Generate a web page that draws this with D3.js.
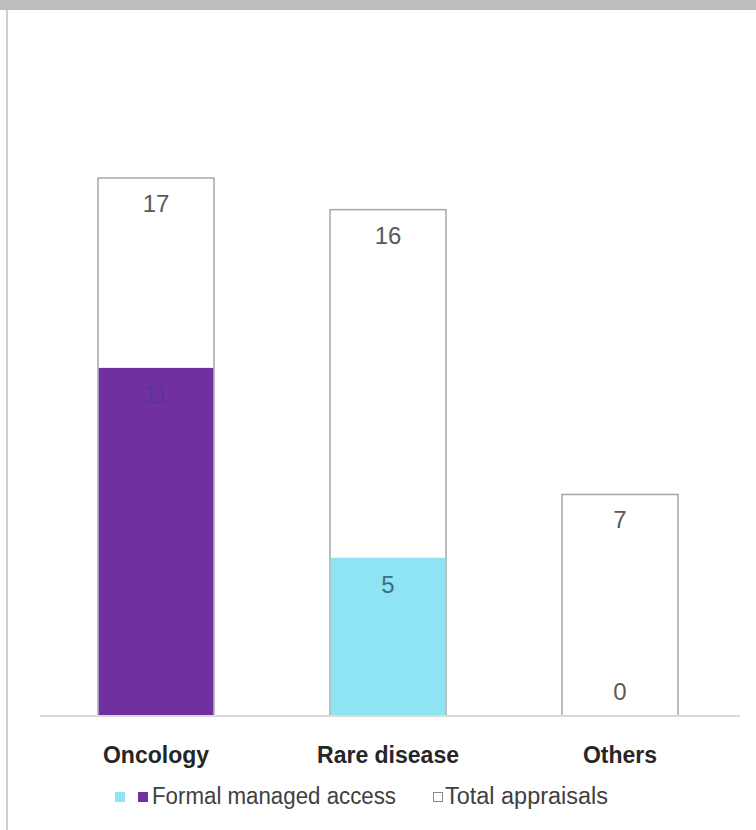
<!DOCTYPE html>
<html>
<head>
<meta charset="utf-8">
<script src="https://cdn.jsdelivr.net/npm/d3@7"></script>
<style>
  html, body { margin: 0; padding: 0; background: #fff; }
  svg { display: block; font-family: "Liberation Sans", Arial, sans-serif; }
</style>
</head>
<body>
<svg id="chart" width="756" height="830"></svg>
<script>
// Appraisals by therapy area
const categories = ["Oncology", "Rare disease", "Others"];
const totalAppraisals = [17, 16, 7];
const formalManagedAccess = [11, 5, 0];
const accessColors = ["#7030a0", "#8fe4f3", "#8fe4f3"];
const accessLabelColors = ["#5b3399", "#3f6f84", "#595959"];
const legendLabels = ["Formal managed access", "Total appraisals"];

const svg = d3.select("#chart");
const W = 756, H = 830;

// frame: grey header strip and left edge
svg.append("rect").attr("x", 0).attr("y", 0).attr("width", W).attr("height", 10).attr("fill", "#bdbdbd");
svg.append("line").attr("x1", 7).attr("x2", 7).attr("y1", 10).attr("y2", H)
  .attr("stroke", "#cfcfcf").attr("stroke-width", 2);

const x = d3.scaleBand().domain(categories).range([40, 736]).paddingInner(0.5).paddingOuter(0.25);
const y = d3.scaleLinear().domain([0, 17]).range([716, 178]);

const data = categories.map((c, i) => ({
  cat: c, total: totalAppraisals[i], access: formalManagedAccess[i],
  color: accessColors[i], labelColor: accessLabelColors[i]
}));

// total appraisals (outlined white bars)
svg.append("g").selectAll("rect").data(data).join("rect")
  .attr("x", d => x(d.cat)).attr("width", x.bandwidth())
  .attr("y", d => y(d.total)).attr("height", d => y(0) - y(d.total))
  .attr("fill", "#fff").attr("stroke", "#a6a6a6").attr("stroke-width", 1.5);

// formal managed access (filled bars in front)
svg.append("g").selectAll("rect").data(data.filter(d => d.access > 0)).join("rect")
  .attr("x", d => x(d.cat) + 0.75).attr("width", x.bandwidth() - 1.5)
  .attr("y", d => y(d.access)).attr("height", d => y(0) - y(d.access))
  .attr("fill", d => d.color);

// category axis
const axis = svg.append("g").attr("transform", `translate(0,${y(0)})`)
  .call(d3.axisBottom(x).tickSize(0).tickPadding(0));
axis.select(".domain").attr("stroke", "#d9d9d9").attr("stroke-width", 2).attr("d", "M40,0H740");
axis.selectAll("text").attr("dy", null).attr("y", 47)
  .attr("font-size", 23).attr("font-weight", "bold").attr("fill", "#262626")
  .attr("font-family", "Liberation Sans, Arial, sans-serif");

// value labels
const labels = svg.append("g").attr("text-anchor", "middle").attr("font-size", 24);
labels.selectAll("text.total").data(data).join("text").attr("class", "total")
  .attr("x", d => x(d.cat) + x.bandwidth() / 2)
  .attr("y", d => y(d.total) + 34)
  .attr("fill", "#595959").text(d => d.total);
labels.selectAll("text.access").data(data).join("text").attr("class", "access")
  .attr("x", d => x(d.cat) + x.bandwidth() / 2)
  .attr("y", d => d.access > 0 ? y(d.access) + 35 : y(0) - 16)
  .attr("fill", d => d.labelColor).text(d => d.access);

// legend
const lg = svg.append("g").attr("font-size", 23).attr("fill", "#404040");
lg.append("rect").attr("x", 115).attr("y", 792).attr("width", 10).attr("height", 10).attr("fill", accessColors[1]);
lg.append("rect").attr("x", 138).attr("y", 792).attr("width", 10).attr("height", 10).attr("fill", accessColors[0]);
lg.append("text").attr("x", 152).attr("y", 804).attr("textLength", 244)
  .attr("lengthAdjust", "spacingAndGlyphs").text(legendLabels[0]);
lg.append("rect").attr("x", 433.5).attr("y", 792.5).attr("width", 9).attr("height", 9)
  .attr("fill", "#fff").attr("stroke", "#8c8c8c").attr("stroke-width", 1);
lg.append("text").attr("x", 445).attr("y", 804).attr("textLength", 163)
  .attr("lengthAdjust", "spacingAndGlyphs").text(legendLabels[1]);
</script>
</body>
</html>
